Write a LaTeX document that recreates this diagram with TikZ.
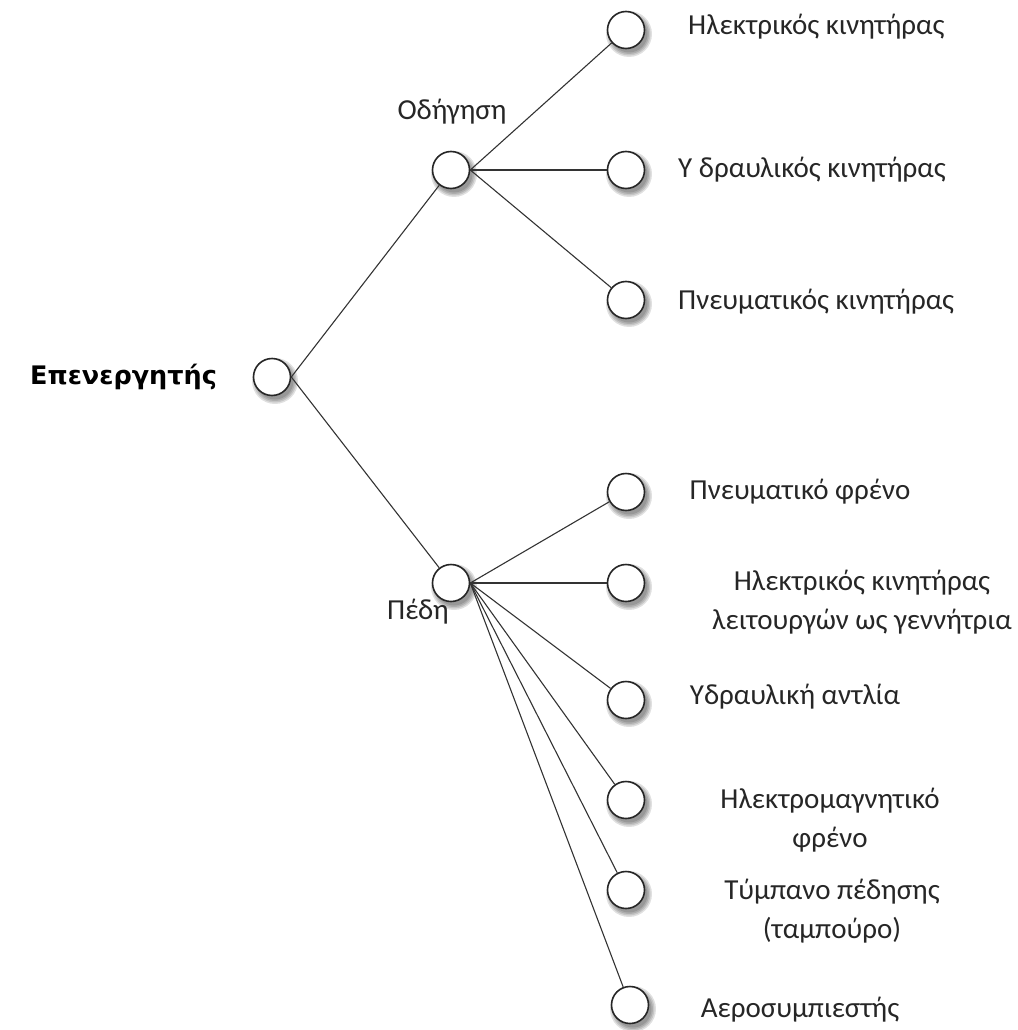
\documentclass[tikz,border=0pt]{standalone}
\usepackage{fontspec}
\setmainfont{Carlito}
\newfontfamily\titlefont{DejaVu Sans}
\begin{document}
\begin{tikzpicture}[x=1pt,y=-1pt,
  dot/.style={circle,draw=black!85,line width=1.6pt,fill=white,minimum size=37pt,inner sep=0pt},
  link/.style={line width=1.1pt,draw=black!80},
  lbl/.style={font=\fontsize{29}{39}\selectfont,align=center,text=black!85,inner sep=0pt},
  softshadow/.style={fill=black,opacity=0.12,draw=none}]
\useasboundingbox (0,0) rectangle (1017,1030);
% soft shadows
\foreach \x/\y in {272/377,451/170,451/583,626/30,626/170,626/300,626/492,626/583,626/700,626/800,626/890,630/1005}{
  \foreach \r in {23,21.5,20,18.5}
    \fill[softshadow] (\x+3,\y+4) circle (\r);
}
% nodes
\node[dot] (root) at (272,377) {};
\node[dot] (od) at (451,170) {};
\node[dot] (pe) at (451,583) {};
\node[dot] (l1) at (626,30) {};
\node[dot] (l2) at (626,170) {};
\node[dot] (l3) at (626,300) {};
\node[dot] (b1) at (626,492) {};
\node[dot] (b2) at (626,583) {};
\node[dot] (b3) at (626,700) {};
\node[dot] (b4) at (626,800) {};
\node[dot] (b5) at (626,890) {};
\node[dot] (b6) at (630,1005) {};
% links
\draw[link] (root.east) -- (od);
\draw[link] (root.east) -- (pe);
\foreach \t in {l1,l2,l3} \draw[link] (od.east) -- (\t);
\foreach \t in {b1,b2,b3,b4,b5,b6} \draw[link] (pe.east) -- (\t);
% labels
\node[font=\titlefont\bfseries\fontsize{25.5}{30}\selectfont,anchor=west,inner sep=0pt] (t0) at (30,377) {Επενεργητής};
\node[lbl] (t1) at (452,112) {Οδήγηση};
\node[lbl] (t2) at (418,612) {Πέδη};
\node[lbl,anchor=west] (t3) at (688,27) {Ηλεκτρικός κινητήρας};
\node[lbl,anchor=west] (t4) at (678,170) {Υ δραυλικός κινητήρας};
\node[lbl,anchor=west] (t5) at (678,302) {Πνευματικός κινητήρας};
\node[lbl] (t6) at (800,492) {Πνευματικό φρένο};
\node[lbl] (t7) at (862,602) {Ηλεκτρικός κινητήρας\\λειτουργών ως γεννήτρια};
\node[lbl] (t8) at (795,697) {Υδραυλική αντλία};
\node[lbl] (t9) at (830,820) {Ηλεκτρομαγνητικό\\φρένο};
\node[lbl] (t10) at (832,911) {Τύμπανο πέδησης\\(ταμπούρο)};
\node[lbl] (t11) at (800,1010) {Αεροσυμπιεστής};
\end{tikzpicture}
\end{document}
